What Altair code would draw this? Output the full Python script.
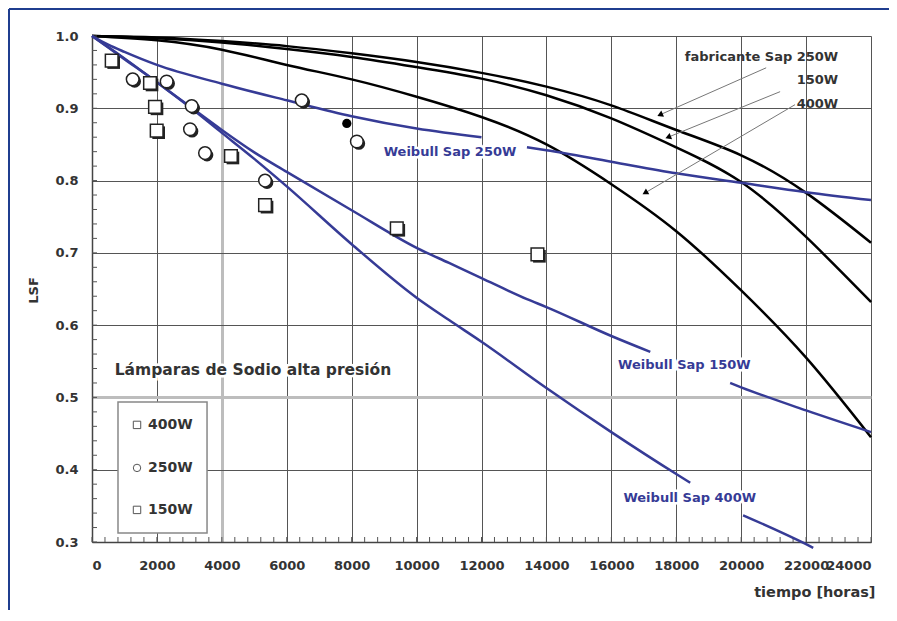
import altair as alt
import pandas as pd

# ---------------- data ----------------
hours = [0, 2000, 4000, 6000, 8000, 10000, 12000, 14000, 16000, 18000, 20000, 22000, 24000]
fab_250w = [1.0, 0.998, 0.993, 0.986, 0.976, 0.964, 0.949, 0.930, 0.904, 0.870, 0.835, 0.783, 0.714]
fab_150w = [1.0, 0.997, 0.991, 0.982, 0.971, 0.957, 0.941, 0.918, 0.886, 0.846, 0.798, 0.722, 0.632]
fab_400w = [1.0, 0.994, 0.981, 0.960, 0.940, 0.916, 0.888, 0.850, 0.795, 0.730, 0.648, 0.555, 0.445]

# Weibull fits (each broken where its label sits)
wb250_a_h = [0, 500, 1000, 2000, 4000, 6000, 8000, 10000, 12000]
wb250_a_v = [1.0, 0.988, 0.978, 0.960, 0.934, 0.911, 0.889, 0.872, 0.860]
wb250_b_h = [13400, 14000, 16000, 18000, 20000, 22000, 24000]
wb250_b_v = [0.846, 0.842, 0.826, 0.810, 0.797, 0.784, 0.773]

wb150_a_h = [0, 1000, 2000, 3000, 4000, 5000, 6000, 8000, 10000, 11000, 12000, 13400, 14000, 16000, 17200]
wb150_a_v = [1.0, 0.969, 0.936, 0.903, 0.870, 0.839, 0.812, 0.759, 0.707, 0.686, 0.665, 0.636, 0.625, 0.585, 0.563]
wb150_b_h = [19660, 20000, 22000, 24000]
wb150_b_v = [0.520, 0.514, 0.482, 0.452]

wb400_a_h = [0, 1000, 2000, 3000, 4000, 5000, 6000, 8000, 10000, 11000, 12000, 14000, 16000, 18000, 18430]
wb400_a_v = [1.0, 0.968, 0.936, 0.902, 0.866, 0.830, 0.792, 0.712, 0.638, 0.607, 0.577, 0.513, 0.452, 0.394, 0.382]
wb400_b_h = [20060, 22000, 22220]
wb400_b_v = [0.337, 0.297, 0.292]

# measured lamps
pts400_h = [607, 1787, 1941, 1993, 4280, 5331]
pts400_v = [0.966, 0.935, 0.902, 0.869, 0.834, 0.766]
pts250_h = [1254, 2300, 3072, 3020, 3482, 5331, 6462, 8160]
pts250_v = [0.940, 0.937, 0.903, 0.871, 0.838, 0.800, 0.911, 0.854]
pts150_h = [9390, 13723]
pts150_v = [0.734, 0.698]
filled_h = [7850]
filled_v = [0.879]

series_names = ["400W", "250W", "150W"]
series_shapes = ["square", "circle", "square"]

x_ticks = [0, 2000, 4000, 6000, 8000, 10000, 12000, 14000, 16000, 18000, 20000, 22000, 24000]
y_ticks = [0.3, 0.4, 0.5, 0.6, 0.7, 0.8, 0.9, 1.0]
x_minor = list(range(0, 24001, 400))
y_minor = [round(0.3 + 0.02 * i, 2) for i in range(36)]

# annotations (anchors in data units)
fab_labels = ["fabricante Sap 250W", "150W", "400W"]
fab_label_h = [22990, 22990, 22990]
fab_label_v = [0.971, 0.939, 0.906]
arrow_from_h = [20770, 21200, 21660]
arrow_from_v = [0.956, 0.923, 0.905]
arrow_to_h = [17500, 17750, 17040]
arrow_to_v = [0.891, 0.860, 0.783]
arrow_angle = [246, 248, 240]

wb_labels = ["Weibull Sap 250W", "Weibull Sap 150W", "Weibull Sap 400W"]
wb_label_h = [11030, 18250, 18415]
wb_label_v = [0.840, 0.545, 0.361]

title_text = ["Lámparas de Sodio alta presión"]
title_h = [700]
title_v = [0.538]

# in-plot legend box
legend_box_h = [801, 3544]
legend_box_v = [0.4938, 0.3126]
legend_sym_h = [1387, 1387, 1387]
legend_sym_v = [0.462, 0.4025, 0.3444]
legend_lab_h = [1726, 1726, 1726]

# ---------------- tables ----------------
fab_df = pd.concat([
    pd.DataFrame({"h": hours, "v": fab_250w, "s": "f250"}),
    pd.DataFrame({"h": hours, "v": fab_150w, "s": "f150"}),
    pd.DataFrame({"h": hours, "v": fab_400w, "s": "f400"}),
])
wb_df = pd.concat([
    pd.DataFrame({"h": wb250_a_h, "v": wb250_a_v, "s": "250a"}),
    pd.DataFrame({"h": wb250_b_h, "v": wb250_b_v, "s": "250b"}),
    pd.DataFrame({"h": wb150_a_h, "v": wb150_a_v, "s": "150a"}),
    pd.DataFrame({"h": wb150_b_h, "v": wb150_b_v, "s": "150b"}),
    pd.DataFrame({"h": wb400_a_h, "v": wb400_a_v, "s": "400a"}),
    pd.DataFrame({"h": wb400_b_h, "v": wb400_b_v, "s": "400b"}),
])
pts_df = pd.concat([
    pd.DataFrame({"h": pts400_h, "v": pts400_v, "s": "400W"}),
    pd.DataFrame({"h": pts250_h, "v": pts250_v, "s": "250W"}),
    pd.DataFrame({"h": pts150_h, "v": pts150_v, "s": "150W"}),
])
filled_df = pd.DataFrame({"h": filled_h, "v": filled_v})
arrows_df = pd.DataFrame({"h": arrow_from_h, "v": arrow_from_v, "h2": arrow_to_h,
                          "v2": arrow_to_v, "ang": arrow_angle})
fab_lab_df = pd.DataFrame({"t": fab_labels, "h": fab_label_h, "v": fab_label_v})
wb_lab_df = pd.DataFrame({"t": wb_labels, "h": wb_label_h, "v": wb_label_v})
title_df = pd.DataFrame({"t": title_text, "h": title_h, "v": title_v})
xminor_df = pd.DataFrame({"h": x_minor})
yminor_df = pd.DataFrame({"v": y_minor})
legbox_df = pd.DataFrame({"h": [legend_box_h[0]], "h2": [legend_box_h[1]],
                          "v": [legend_box_v[0]], "v2": [legend_box_v[1]]})
legitems_df = pd.DataFrame({"s": series_names, "h": legend_sym_h, "v": legend_sym_v,
                            "lh": legend_lab_h})
one_df = pd.DataFrame({"a": [0]})

# ---------------- styling ----------------
W, H = 779, 506
FONT = "DejaVu Sans"
BLUE = "#363b96"
TXT = "#333"
xs = alt.Scale(domain=[0, 24000], nice=False, zero=False)
ys = alt.Scale(domain=[0.3, 1.0], nice=False, zero=False)

x_axis = alt.Axis(
    values=x_ticks, format="d", ticks=False, labelPadding=17, labelOverlap=False, labelFlush=True,
    labelFont=FONT, labelFontSize=13, labelFontWeight="bold", labelColor=TXT,
    grid=True,
    gridColor={"condition": {"test": "abs(datum.value - 4000) < 1", "value": "#bdbdbd"}, "value": "#555"},
    gridWidth={"condition": {"test": "abs(datum.value - 4000) < 1", "value": 3}, "value": 1},
    domainColor="#444", domainWidth=1.5,
    title="tiempo [horas]", titleFont=FONT, titleFontSize=14.5, titleFontWeight="bold",
    titleColor=TXT, titleX=783, titleY=50, titleAlign="right", titleBaseline="middle",
)
y_axis = alt.Axis(
    values=y_ticks, format=".1f", ticks=False, labelPadding=14, labelOverlap=False, labelFlush=False,
    labelFont=FONT, labelFontSize=13, labelFontWeight="bold", labelColor=TXT,
    grid=True,
    gridColor={"condition": {"test": "abs(datum.value - 0.5) < 0.001", "value": "#bdbdbd"}, "value": "#555"},
    gridWidth={"condition": {"test": "abs(datum.value - 0.5) < 0.001", "value": 3}, "value": 1},
    domainColor="#444", domainWidth=1.5,
    title="LSF", titleFont=FONT, titleFontSize=13, titleFontWeight="bold",
    titleColor=TXT, titleX=-59, titleY=254, titleAlign="center", titleBaseline="middle",
)


def X(field):
    return alt.X(field, type="quantitative", scale=xs, axis=x_axis)


def Y(field):
    return alt.Y(field, type="quantitative", scale=ys, axis=y_axis)


shape_scale = alt.Scale(domain=series_names, range=series_shapes)

fab_lines = alt.Chart(fab_df).mark_line(color="black", strokeWidth=2.5, interpolate="natural").encode(
    x=X("h"), y=Y("v"), detail="s:N")

wb_lines = alt.Chart(wb_df).mark_line(color=BLUE, strokeWidth=2.5, interpolate="monotone").encode(
    x=X("h"), y=Y("v"), detail="s:N")

minor_x = alt.Chart(xminor_df).mark_rule(color="#555", strokeWidth=1).encode(
    x=X("h"), y=alt.value(H), y2=alt.value(H - 5))
minor_y = alt.Chart(yminor_df).mark_rule(color="#555", strokeWidth=1).encode(
    y=Y("v"), x=alt.value(0), x2=alt.value(5))

shadow_sq = alt.Chart(pts_df).transform_filter("datum.s != '250W'").mark_point(
    shape="square", filled=True, color="#222", size=160, xOffset=2, yOffset=2, opacity=1).encode(
    x=X("h"), y=Y("v"))
shadow_ci = alt.Chart(pts_df).transform_filter("datum.s == '250W'").mark_point(
    shape="circle", filled=True, color="#222", size=160, xOffset=2, yOffset=2, opacity=1).encode(
    x=X("h"), y=Y("v"))
points = alt.Chart(pts_df).mark_point(filled=True, fill="white", stroke="#222", strokeWidth=1.5,
                                      size=160, opacity=1).encode(
    x=X("h"), y=Y("v"),
    shape=alt.Shape("s:N", scale=shape_scale, legend=None),
)
filled_pt = alt.Chart(filled_df).mark_point(filled=True, color="black", size=85, opacity=1).encode(
    x=X("h"), y=Y("v"))

arrow_lines = alt.Chart(arrows_df).mark_rule(color="#777", strokeWidth=1).encode(
    x=X("h"), y=Y("v"), x2="h2:Q", y2="v2:Q")
arrow_heads = alt.Chart(arrows_df).mark_point(shape="triangle-up", filled=True, color="black",
                                              size=45, opacity=1).encode(
    x=X("h2"), y=Y("v2"), angle=alt.Angle("ang:Q", scale=None))

fab_text = alt.Chart(fab_lab_df).mark_text(align="right", baseline="middle", font=FONT,
                                           fontSize=13, fontWeight="bold", color=TXT).encode(
    x=X("h"), y=Y("v"), text="t:N")

wb_halo = alt.Chart(wb_lab_df).mark_text(align="center", baseline="middle", font=FONT, fontSize=13,
                                         fontWeight="bold", color="white", stroke="white",
                                         strokeWidth=5).encode(
    x=X("h"), y=Y("v"), text="t:N")
wb_text = alt.Chart(wb_lab_df).mark_text(align="center", baseline="middle", font=FONT, fontSize=13,
                                         fontWeight="bold", color=BLUE).encode(
    x=X("h"), y=Y("v"), text="t:N")

title_halo = alt.Chart(title_df).mark_text(align="left", baseline="middle", font=FONT, fontSize=15.5,
                                           fontWeight="bold", color="white", stroke="white",
                                           strokeWidth=5).encode(
    x=X("h"), y=Y("v"), text="t:N")
title_txt = alt.Chart(title_df).mark_text(align="left", baseline="middle", font=FONT, fontSize=15.5,
                                          fontWeight="bold", color=TXT).encode(
    x=X("h"), y=Y("v"), text="t:N")

leg_box = alt.Chart(legbox_df).mark_rect(fill="white", stroke="#888", strokeWidth=1.5).encode(
    x=X("h"), x2="h2:Q", y=Y("v"), y2="v2:Q")
leg_syms = alt.Chart(legitems_df).mark_point(filled=False, color="#555", strokeWidth=1,
                                             size=55, opacity=1).encode(
    x=X("h"), y=Y("v"), shape=alt.Shape("s:N", scale=shape_scale, legend=None))
leg_labels = alt.Chart(legitems_df).mark_text(align="left", baseline="middle", font=FONT,
                                              fontSize=14, fontWeight="bold", color=TXT).encode(
    x=X("lh"), y=Y("v"), text="s:N")

frame_left = alt.Chart(one_df).mark_rule(color="#1f3d8f", strokeWidth=2).encode(
    x=alt.value(-83), x2=alt.value(-83), y=alt.value(-27), y2=alt.value(H + 70))
frame_top = alt.Chart(one_df).mark_rule(color="#1f3d8f", strokeWidth=2).encode(
    x=alt.value(-83), x2=alt.value(W + 18), y=alt.value(-27), y2=alt.value(-27))

chart = alt.layer(
    fab_lines, minor_x, minor_y, wb_lines, arrow_lines, arrow_heads,
    wb_halo, wb_text, shadow_sq, shadow_ci, points, filled_pt, fab_text, title_halo, title_txt,
    leg_box, leg_syms, leg_labels, frame_left, frame_top,
).properties(
    width=W, height=H,
    autosize=alt.AutoSizeParams(type="none"),
    padding={"left": 84, "top": 28, "right": 18, "bottom": 68},
).configure_view(stroke="#999", strokeWidth=1.5).configure(background="white")

chart.save("out.html", embed_options={"renderer": "svg", "actions": False})
